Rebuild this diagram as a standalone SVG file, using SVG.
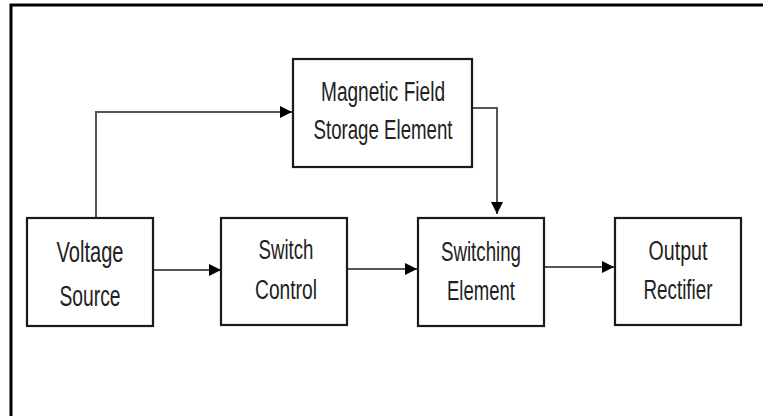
<svg xmlns="http://www.w3.org/2000/svg" width="763" height="416" viewBox="0 0 763 416">
  <style>
    .box { fill: #ffffff; stroke: #1a1a1a; stroke-width: 2.2; }
    .lbl { font-family: "Liberation Sans", Arial, sans-serif; font-size: 27px; fill: #222222; text-anchor: middle; }
    .conn { fill: none; stroke: #555555; stroke-width: 2; }
    .frame { fill: none; stroke: #000000; stroke-width: 3; }
  </style>
  <defs>
    <marker id="arrow" markerUnits="userSpaceOnUse" markerWidth="12" markerHeight="12" refX="12" refY="6" orient="auto">
      <path d="M0,0 L12,6 L0,12 z" fill="#000000"/>
    </marker>
  </defs>
  <rect x="0" y="0" width="763" height="416" fill="#ffffff"/>
  <path class="frame" d="M11,416 V5 H763"/>

  <g id="connectors">
    <path class="conn" d="M96,218 V112 H292" marker-end="url(#arrow)"/>
    <path class="conn" d="M472,108 H497 V214" marker-end="url(#arrow)"/>
    <path class="conn" d="M153,270 H221" marker-end="url(#arrow)"/>
    <path class="conn" d="M347,269 H417" marker-end="url(#arrow)"/>
    <path class="conn" d="M544,267 H614" marker-end="url(#arrow)"/>
  </g>

  <g id="voltage-source">
    <rect class="box" x="27" y="218" width="126" height="108"/>
    <text class="lbl" x="90" y="262" style="font-size:29px" textLength="67" lengthAdjust="spacingAndGlyphs">Voltage</text>
    <text class="lbl" x="90" y="306" style="font-size:29px" textLength="61" lengthAdjust="spacingAndGlyphs">Source</text>
  </g>

  <g id="switch-control">
    <rect class="box" x="221" y="218" width="126" height="107"/>
    <text class="lbl" x="286" y="259" textLength="55" lengthAdjust="spacingAndGlyphs">Switch</text>
    <text class="lbl" x="286" y="299" textLength="62" lengthAdjust="spacingAndGlyphs">Control</text>
  </g>

  <g id="magnetic-field-storage">
    <rect class="box" x="293" y="59" width="179" height="108"/>
    <text class="lbl" x="383" y="101" textLength="124" lengthAdjust="spacingAndGlyphs">Magnetic Field</text>
    <text class="lbl" x="383" y="139" textLength="139" lengthAdjust="spacingAndGlyphs">Storage Element</text>
  </g>

  <g id="switching-element">
    <rect class="box" x="418" y="218" width="126" height="108"/>
    <text class="lbl" x="481" y="261" textLength="80" lengthAdjust="spacingAndGlyphs">Switching</text>
    <text class="lbl" x="481" y="300" textLength="68" lengthAdjust="spacingAndGlyphs">Element</text>
  </g>

  <g id="output-rectifier">
    <rect class="box" x="615" y="218" width="126" height="107"/>
    <text class="lbl" x="678" y="260" textLength="59" lengthAdjust="spacingAndGlyphs">Output</text>
    <text class="lbl" x="678" y="299" textLength="69" lengthAdjust="spacingAndGlyphs">Rectifier</text>
  </g>
</svg>
